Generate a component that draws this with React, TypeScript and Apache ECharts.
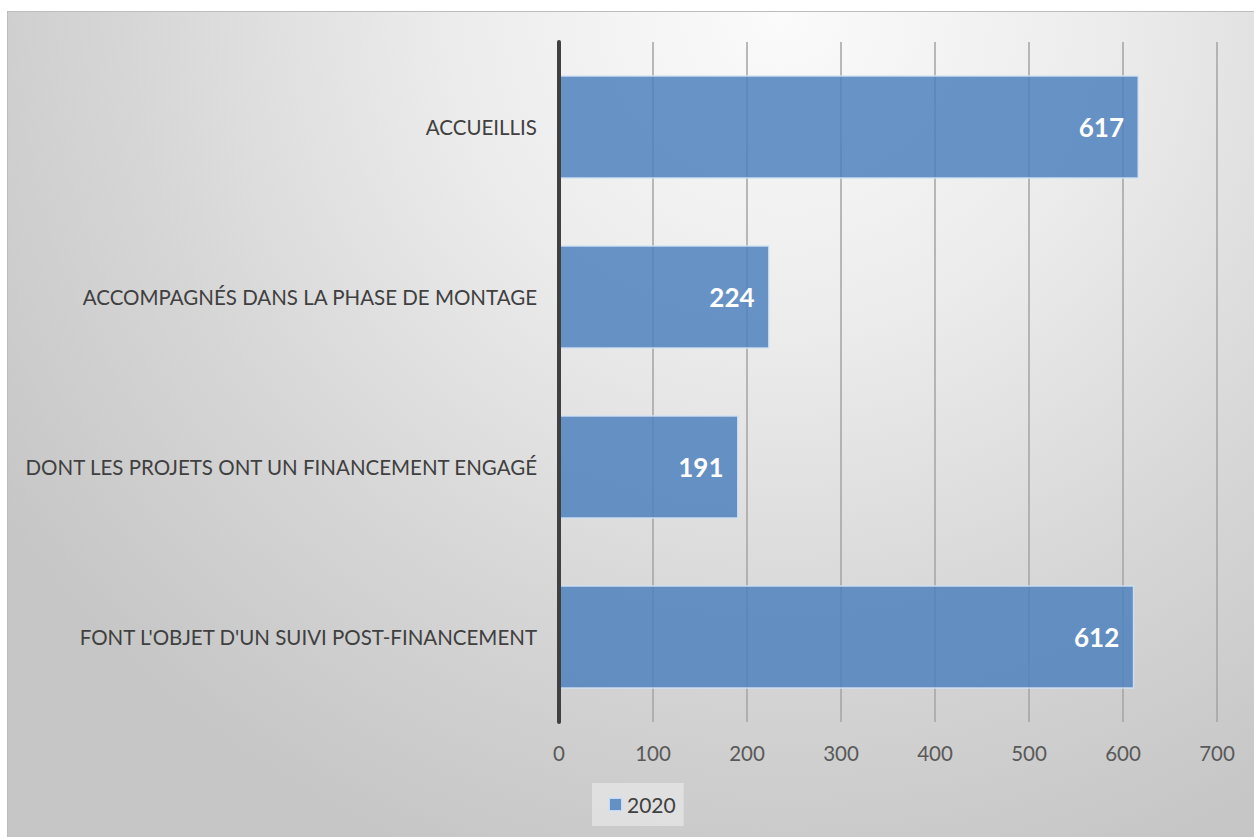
import React, { useEffect, useRef } from "react";
import * as echarts from "echarts";

const categories = [
  "ACCUEILLIS",
  "ACCOMPAGNÉS DANS LA PHASE DE MONTAGE",
  "DONT LES PROJETS ONT UN FINANCEMENT ENGAGÉ",
  "FONT L'OBJET D'UN SUIVI POST-FINANCEMENT",
];
const values2020 = [617, 224, 191, 612];
const seriesName = "2020";
const xTicks = { min: 0, max: 700, interval: 100 };

export default function App() {
  const ref = useRef<HTMLDivElement>(null);
  useEffect(() => {
    if (!ref.current) return;
    const chart = echarts.init(ref.current, undefined, { renderer: "svg" });
    chart.setOption({
      animation: false,
      backgroundColor: "transparent",
      textStyle: { fontFamily: "Lato" },
      grid: { left: 551, right: 37, top: 30, bottom: 115, containLabel: false },
      legend: {
        data: [seriesName],
        left: 584,
        top: 771,
        icon: "rect",
        itemWidth: 13,
        itemHeight: 13,
        padding: [11, 8, 11, 16],
        backgroundColor: "rgba(240,240,240,0.55)",
        textStyle: { fontFamily: "Lato", fontSize: 21, color: "#404040" },
      },
      xAxis: {
        type: "value",
        min: xTicks.min,
        max: xTicks.max,
        interval: xTicks.interval,
        axisLine: { show: false },
        axisTick: { show: false },
        splitLine: { show: true, lineStyle: { color: "#a3a3a3", width: 1.5 } },
        axisLabel: { fontFamily: "Lato", fontSize: 20.5, color: "#595959", margin: 20 },
      },
      yAxis: {
        type: "category",
        data: categories,
        inverse: true,
        z: 5,
        axisLine: { show: true, lineStyle: { color: "#404040", width: 4 } },
        axisTick: { show: false },
        axisLabel: { fontFamily: "Lato", fontSize: 20.5, color: "#404040", margin: 22 },
      },
      series: [
        {
          name: seriesName,
          type: "bar",
          data: values2020,
          barCategoryGap: "39%",
          itemStyle: {
            color: "rgba(79,129,189,0.85)",
            borderColor: "rgba(210,225,245,0.9)",
            borderWidth: 1.5,
          },
          label: {
            show: true,
            position: "insideRight",
            distance: 15,
            color: "#ffffff",
            fontFamily: "Lato",
            fontWeight: "bold",
            fontSize: 26,
          },
        },
      ],
    });
    return () => chart.dispose();
  }, []);
  return (
    <div
      style={{
        position: "absolute",
        left: 7,
        top: 11,
        width: 1247,
        height: 826,
        boxSizing: "border-box",
        borderLeft: "1px solid #bdbdbd",
        borderTop: "1px solid #bdbdbd",
        background:
          "radial-gradient(ellipse 75% 110% at 62% 0%, #fbfbfb 0%, #ececec 35%, #d6d6d6 70%, #c6c6c6 100%)",
      }}
    >
      <div ref={ref} style={{ width: 1246, height: 825 }} />
    </div>
  );
}
